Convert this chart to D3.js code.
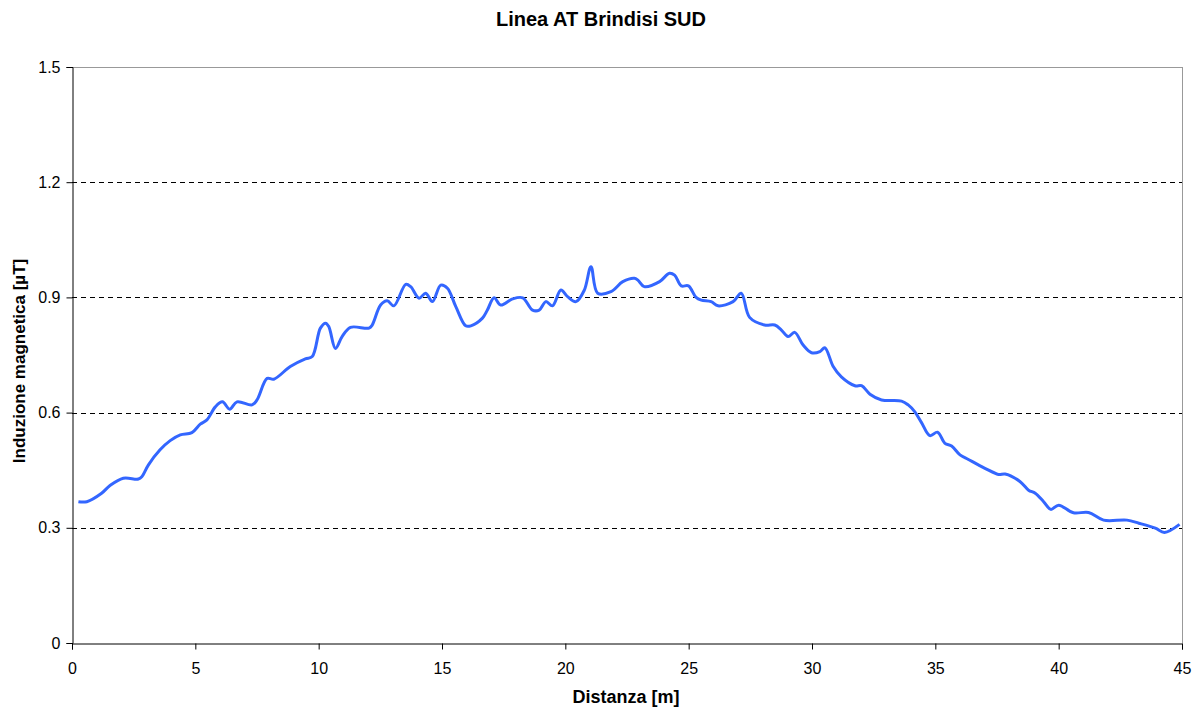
<!DOCTYPE html>
<html><head><meta charset="utf-8">
<script src="https://cdn.jsdelivr.net/npm/d3@7"></script>
<style>body{margin:0;background:#fff}svg{display:block;font-family:"Liberation Sans",Arial,sans-serif}</style>
</head><body>
<svg id="c" width="1201" height="711"></svg>
<script>
const title = "Linea AT Brindisi SUD";
const xTitle = "Distanza [m]";
const yTitle = "Induzione magnetica [µT]";
const xTicks = [0,5,10,15,20,25,30,35,40,45];
const yTicks = [0,0.3,0.6,0.9,1.2,1.5];
const distanza = [0.26,0.6,1.2,1.54,2.08,2.69,2.83,3.1,3.57,3.98,4.39,4.86,5.2,5.47,5.81,6.1,6.39,6.69,7.3,7.5,7.91,8.18,8.85,9.46,9.74,10.07,10.28,10.41,10.68,10.95,11.29,12.04,12.17,12.51,12.78,13.05,13.53,13.73,14.07,14.34,14.61,14.95,15.22,15.56,15.96,16.17,16.64,16.84,17.11,17.38,17.86,18.27,18.67,18.94,19.21,19.48,19.82,20.09,20.43,20.77,21.04,21.31,21.85,22.33,22.8,22.94,23.2,23.82,24.22,24.43,24.7,24.99,25.3,25.51,25.91,26.19,26.8,27.13,27.47,28.08,28.49,28.76,29.03,29.3,29.64,29.98,30.32,30.52,30.86,31.19,31.74,32.01,32.35,32.82,33.63,33.9,34.17,34.44,34.78,35.09,35.39,35.66,36.0,36.34,37.01,37.56,37.83,38.44,38.78,39.05,39.39,39.68,40.0,40.6,41.21,41.82,42.77,43.25,43.92,44.29,44.9];
const induzione = [0.368,0.368,0.39,0.41,0.429,0.427,0.433,0.464,0.503,0.527,0.542,0.548,0.57,0.581,0.615,0.628,0.609,0.628,0.62,0.633,0.689,0.687,0.72,0.74,0.746,0.82,0.833,0.824,0.767,0.798,0.822,0.82,0.828,0.88,0.891,0.878,0.934,0.928,0.898,0.911,0.889,0.932,0.924,0.876,0.826,0.826,0.846,0.867,0.899,0.88,0.896,0.899,0.867,0.867,0.889,0.878,0.919,0.902,0.889,0.919,0.98,0.911,0.915,0.941,0.95,0.945,0.928,0.941,0.963,0.958,0.93,0.93,0.9,0.893,0.889,0.878,0.889,0.911,0.848,0.828,0.828,0.815,0.798,0.809,0.776,0.756,0.759,0.769,0.72,0.693,0.67,0.67,0.648,0.633,0.63,0.62,0.602,0.574,0.54,0.549,0.52,0.513,0.49,0.478,0.455,0.439,0.44,0.42,0.398,0.39,0.368,0.348,0.359,0.339,0.34,0.32,0.32,0.312,0.299,0.288,0.309];

const svg = d3.select("#c");
const L=72,R=1182,T=67,B=643;
const x = d3.scaleLinear().domain([0,45]).range([L,R]);
const y = d3.scaleLinear().domain([0,1.5]).range([B,T]);

// grid
svg.append("g").selectAll("line").data(yTicks.filter(d=>d>0&&d<1.5)).join("line")
  .attr("x1",L).attr("x2",R).attr("y1",d=>Math.round(y(d))+0.5).attr("y2",d=>Math.round(y(d))+0.5)
  .attr("stroke","#000").attr("stroke-dasharray","5,4").attr("stroke-width",1);
// frame top/right
svg.append("line").attr("x1",L).attr("x2",R).attr("y1",T+0.5).attr("y2",T+0.5).attr("stroke","#999");
svg.append("line").attr("x1",R+0.5).attr("x2",R+0.5).attr("y1",T).attr("y2",B).attr("stroke","#999");

// axes
const xa = svg.append("g").attr("transform",`translate(0,${B+0.5})`)
  .call(d3.axisBottom(x).tickValues(xTicks).tickSize(6).tickPadding(13).tickFormat(d3.format("d")));
const ya = svg.append("g").attr("transform",`translate(${L+0.5},0)`)
  .call(d3.axisLeft(y).tickValues(yTicks).tickSize(6).tickPadding(6).tickFormat(d=>d===0?"0":d3.format(".1f")(d)));
[xa,ya].forEach(a=>{a.attr("font-size",16).attr("font-family","Liberation Sans, Arial, sans-serif");
  a.select(".domain").attr("stroke","#000");a.selectAll(".tick line").attr("stroke","#000");
  a.selectAll("text").attr("font-size",16).attr("fill","#000");});

// line
const pts = distanza.map((d,i)=>[d,induzione[i]]);
svg.append("path").datum(pts)
  .attr("d",d3.line().x(d=>x(d[0])).y(d=>y(d[1])).curve(d3.curveCatmullRom.alpha(0.5)))
  .attr("fill","none").attr("stroke","#3366ff").attr("stroke-width",3).attr("stroke-linejoin","round");

// titles
svg.append("text").attr("x",601).attr("y",26).attr("text-anchor","middle")
  .attr("font-size",20).attr("font-weight","bold").text(title);
svg.append("text").attr("x",626).attr("y",703).attr("text-anchor","middle")
  .attr("font-size",18).attr("font-weight","bold").text(xTitle);
svg.append("text").attr("transform","translate(25,361) rotate(-90)").attr("text-anchor","middle")
  .attr("font-size",17).attr("font-weight","bold").text(yTitle);
</script>
</body></html>
